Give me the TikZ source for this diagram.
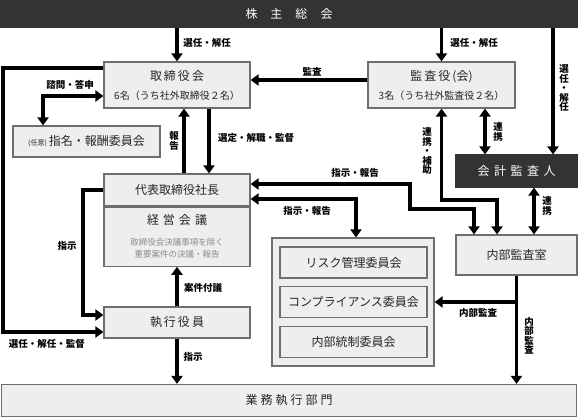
\documentclass[tikz,border=0pt]{standalone}
\usepackage{fontspec}
\setmainfont{Noto Sans CJK JP}
\usetikzlibrary{positioning,arrows.meta}
\definecolor{boxfill}{HTML}{EEEEEE}
\definecolor{boxline}{HTML}{6E6E6E}
\definecolor{barfill}{HTML}{333333}
\definecolor{notetext}{HTML}{8A8A8A}

\begin{document}
\begin{tikzpicture}[x=1pt, y=-1pt,
	box/.style={draw=boxline, line width=1.2pt, fill=boxfill, text=black!85, inner sep=0pt, align=center, font=\fontsize{12}{14}\selectfont},
	darkbox/.style={box, draw=barfill, fill=barfill, text=white},
	arrow/.style={line width=3.5pt, -{Triangle[length=8pt,width=11pt]}},
	twoway/.style={line width=3.5pt, {Triangle[length=8pt,width=11pt]}-{Triangle[length=8pt,width=11pt]}},
	lbl/.style={inner sep=0pt, font=\fontsize{9.5}{11}\bfseries\selectfont},
	vlbl/.style={lbl, align=center, font=\fontsize{9.5}{9.5}\bfseries\selectfont}]
	\useasboundingbox (0,0) rectangle (578,418);

	% boxes
	\node[darkbox, minimum width=576pt, minimum height=26pt] (soukai) at (289,14) {株\hspace{13pt}主\hspace{13pt}総\hspace{13pt}会};
	\node[box, minimum width=146pt, minimum height=46pt] (torishimari) at (177,85) {取\,締\,役\,会\\[5pt]{\fontsize{10}{12}\selectfont 6名（うち社外取締役２名）}};
	\node[box, minimum width=147pt, minimum height=46pt] (kansayaku) at (441.5,85) {監\,査\,役\,(会)\\[5pt]{\fontsize{10}{12}\selectfont 3名（うち社外監査役２名）}};
	\node[box, minimum width=147pt, minimum height=31pt] (shimei) at (86.5,141.5) {{\fontsize{7}{8}\selectfont (任意)}\,指名・報酬委員会};
	\node[darkbox, minimum width=121pt, minimum height=32pt] (kaikei) at (516.5,171) {会\hspace{4.5pt}計\hspace{4.5pt}監\hspace{4.5pt}査\hspace{4.5pt}人};
	\node[box, minimum width=146pt, minimum height=32pt] (daihyo) at (177,190) {代表取締役社長};
	\node[box, minimum width=146pt, minimum height=59pt, below=0pt of daihyo] (keiei) {経\hspace{4pt}営\hspace{4pt}会\hspace{4pt}議\\[7pt]{\color{notetext}\fontsize{8.5}{10}\selectfont 取締役会決議事項を除く}\\[-2pt]{\color{notetext}\fontsize{8.5}{10}\selectfont 重要案件の決議・報告}};
	\node[box, minimum width=146pt, minimum height=31pt] (shikko) at (177,322.5) {執\,行\,役\,員};
	\node[box, minimum width=121pt, minimum height=40pt] (naibu) at (516.5,255) {内部監査室};
	\node[box, minimum width=162pt, minimum height=128pt] (iinkai) at (353,302) {};
	\node[box, minimum width=147pt, minimum height=31pt] (risk) at (353.5,262.5) {リスク管理委員会};
	\node[box, minimum width=147pt, minimum height=31pt, below=7pt of risk] (comp) {コンプライアンス委員会};
	\node[box, minimum width=147pt, minimum height=31pt, below=8pt of comp] (tosei) {内部統制委員会};
	\node[box, minimum width=575pt, minimum height=32pt] (gyomu) at (289,400.5) {業\hspace{3pt}務\hspace{3pt}執\hspace{3pt}行\hspace{3pt}部\hspace{3pt}門};

	% bends
	\coordinate (leftrail) at (3,200);
	\coordinate (innerrail) at (83,250);
	\coordinate (bendA) at (410,209);
	\coordinate (bendB) at (470,200);
	\coordinate (kaikeiin) at ([xshift=36.5pt]kaikei.north);

	% connectors
	\draw[arrow] (soukai.south -| torishimari) -- (torishimari.north);
	\draw[arrow] (soukai.south -| kansayaku) -- (kansayaku.north);
	\draw[arrow] (soukai.south -| kaikeiin) -- (kaikeiin);
	\draw[arrow] ([yshift=5pt]kansayaku.west) -- ([yshift=5pt]torishimari.east);
	\draw[twoway] ([yshift=-11pt]torishimari.west) -| ([xshift=-43.5pt]shimei.north);
	\draw[arrow] ([yshift=17pt]torishimari.west) -| (leftrail) |- ([yshift=-9.5pt]shikko.west);
	\draw[arrow] ([xshift=7pt]daihyo.north) -- ([xshift=7pt]torishimari.south);
	\draw[arrow] ([xshift=32pt]torishimari.south) -- ([xshift=32pt]daihyo.north);
	\draw[arrow] (daihyo.west) -| (innerrail) |- ([yshift=7.5pt]shikko.west);
	\draw[arrow] (shikko.north) -- (keiei.south);
	\draw[arrow] (shikko.south) -- (shikko.south |- gyomu.north);
	\draw[twoway] ([yshift=6pt]daihyo.east) -| (bendA) -| ([xshift=-42.5pt]naibu.north);
	\draw[twoway] ([yshift=-9pt]daihyo.east) -| ([xshift=3pt]iinkai.north);
	\draw[twoway] (kansayaku.south) |- (bendB) -| ([xshift=-19.5pt]naibu.north);
	\draw[twoway] ([xshift=43.5pt]kansayaku.south) -- ([xshift=43.5pt]kansayaku.south |- kaikei.north);
	\draw[twoway] ([xshift=17.5pt]kaikei.south) -- ([xshift=17.5pt]naibu.north);
	\draw[arrow] (naibu.south) -- (naibu.south |- gyomu.north);
	\draw[arrow] (naibu.south |- iinkai.east) -- (iinkai.east);

	% labels
	\node[lbl] at (207,43) {選任・解任};
	\node[lbl] at (474,43) {選任・解任};
	\node[vlbl] at (564,88) {選\\任\\・\\解\\任};
	\node[lbl] at (312,72) {監査};
	\node[lbl] at (70,85) {諮問・答申};
	\node[vlbl] at (174,141) {報\\告};
	\node[lbl] at (256,138) {選定・解職・監督};
	\node[vlbl] at (427,151) {連\\携\\・\\補\\助};
	\node[vlbl] at (498,132) {連\\携};
	\node[vlbl] at (547,206) {連\\携};
	\node[lbl] at (355,173) {指示・報告};
	\node[lbl] at (307,211) {指示・報告};
	\node[lbl] at (67,246) {指示};
	\node[lbl] at (203,288) {案件付議};
	\node[lbl] at (47,344) {選任・解任・監督};
	\node[lbl] at (193,357) {指示};
	\node[lbl] at (478,313) {内部監査};
	\node[vlbl] at (529,336) {内\\部\\監\\査};
\end{tikzpicture}
\end{document}
